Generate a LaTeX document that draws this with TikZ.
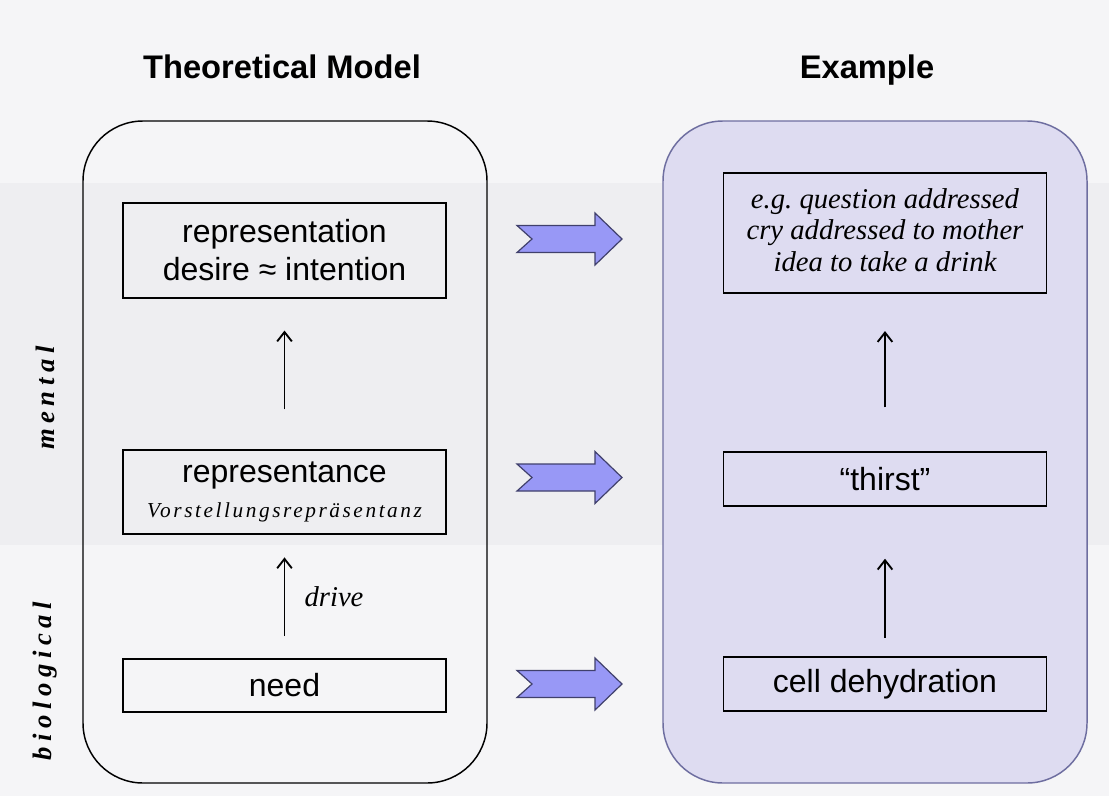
\documentclass[tikz,border=0pt]{standalone}
\usepackage{fontspec}
\setmainfont{Liberation Serif}
\setsansfont{Liberation Sans}
\usetikzlibrary{arrows.meta,positioning}

\definecolor{paper}{HTML}{F5F5F7}
\definecolor{band}{HTML}{EEEEF1}
\definecolor{lavender}{HTML}{DEDCF1}
\definecolor{lavenderline}{HTML}{6E6EA0}
\definecolor{arrowblue}{HTML}{9898F6}
\definecolor{arrowline}{HTML}{40406C}

\tikzset{
  box/.style={draw, line width=1.1pt, minimum width=242pt, inner sep=0pt,
    align=center, font=\sffamily\fontsize{24}{28.5}\selectfont},
  heading/.style={anchor=base, font=\sffamily\bfseries\fontsize{24.5}{28}\selectfont},
  example/.style={font=\itshape\fontsize{21.5}{23.6}\selectfont},
  sidelabel/.style={rotate=90,
    font=\bfseries\itshape\fontsize{20}{22}\selectfont\addfontfeature{LetterSpace=21}},
  uparrow/.style={-{Straight Barb[length=7pt,width=11pt]}, line width=1.4pt},
  bluearrow/.style={fill=arrowblue, draw=arrowline, line width=0.9pt, line join=miter}
}

\newcommand{\bluearrow}[1]{%
  \draw[bluearrow] (#1) ++(-52.5,-13.5) -- ++(78,0) -- ++(0,-12.5) -- ++(27,26)
    -- ++(-27,26) -- ++(0,-12.5) -- ++(-78,0) -- ++(15,-13.5) -- cycle;}

\begin{document}
\begin{tikzpicture}[x=0.75pt, y=-0.75pt]
  \useasboundingbox (0,0) rectangle (1109,796);
  % background
  \fill[paper] (0,0) rectangle (1109,796);
  \fill[band] (0,183) rectangle (1109,545);

  % headings
  \node[heading] (theoryhead) at (282,78) {Theoretical Model};
  \node[heading] (examplehead) at (867,78) {Example};

  % frames
  \draw[line width=1.1pt, rounded corners=45pt] (83,121) rectangle (487,783);
  \draw[fill=lavender, draw=lavenderline, line width=1.1pt, rounded corners=45pt]
    (663,121) rectangle (1087,783);

  % theoretical model
  \node[box, minimum height=71pt] (reptn) at (284.5,250.5)
    {representation\\desire ≈ intention};
  \node[box, minimum height=63pt] (repce) at (284.5,492)
    {representance\\[-2.5pt]{\rmfamily\itshape\fontsize{16}{18}\selectfont
      \addfontfeature{LetterSpace=12}Vorstellungsrepräsentanz}};
  \node[box, minimum height=40pt] (need) at (284.5,685.5) {need};

  \draw[uparrow, shorten <=30pt, shorten >=24pt] (repce.north) -- (reptn.south);
  \draw[uparrow, shorten <=16.5pt, shorten >=17pt] (need.north) -- (repce.south)
    node[midway, right=11pt, example] (drive) {drive};

  % example
  \node[box, minimum height=90pt, example] (eg) at (885,233)
    {e.g.\ question addressed\\cry addressed to mother\\idea to take a drink\vphantom{y}};
  \node[box, minimum height=40.5pt] (thirst) at (885,479) {“thirst”};
  \node[box, minimum height=40.5pt] (cell) at (885,684) {cell dehydration};

  \draw[uparrow, shorten <=33pt, shorten >=28pt] (thirst.north) -- (eg.south);
  \draw[uparrow, shorten <=14pt, shorten >=39pt] (cell.north) -- (thirst.south);

  % block arrows
  \coordinate (arrA) at (569.5,239);
  \coordinate (arrB) at (569.5,477.5);
  \coordinate (arrC) at (569.5,684);
  \foreach \a in {arrA,arrB,arrC}
    \bluearrow{\a};

  % side labels
  \node[sidelabel] (mental) at (45,398) {mental};
  \node[sidelabel] (biological) at (45,681) {biological};
\end{tikzpicture}
\end{document}
